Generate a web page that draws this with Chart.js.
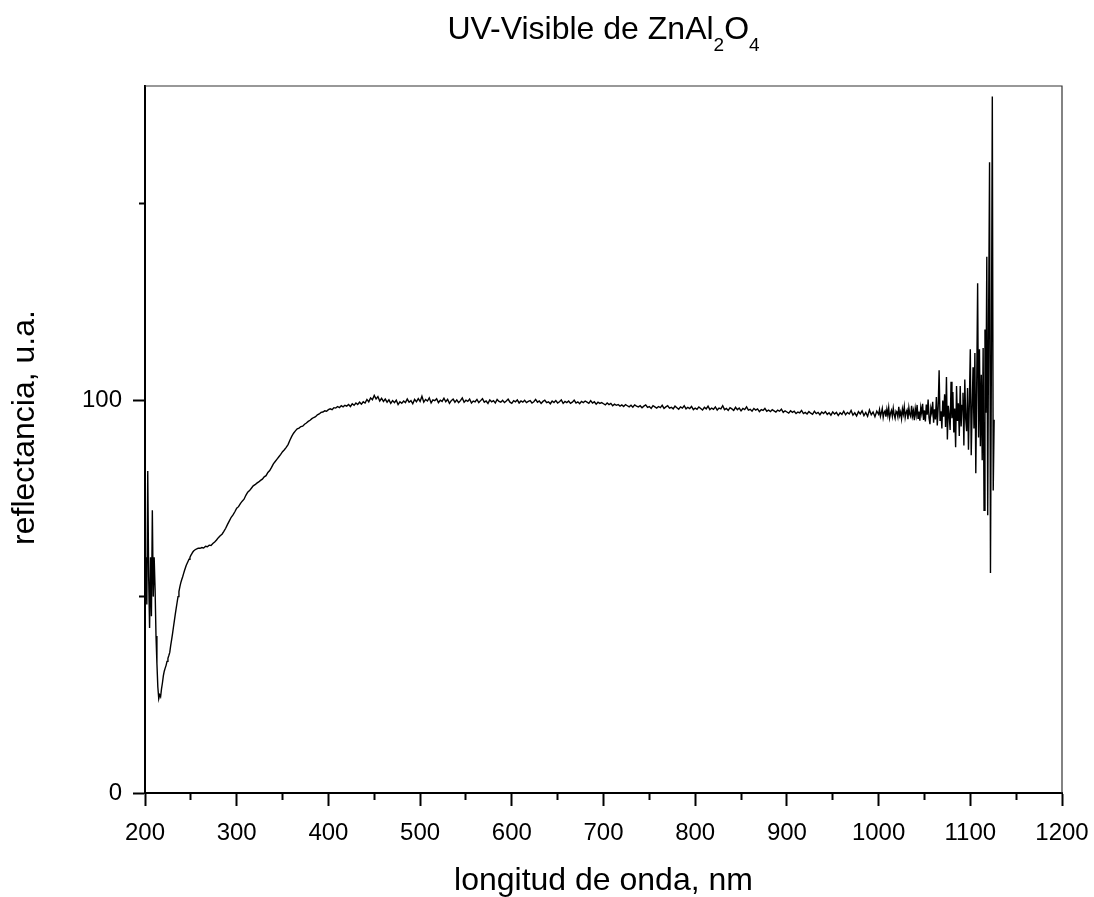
<!DOCTYPE html>
<html>
<head>
<meta charset="utf-8">
<title>UV-Visible de ZnAl2O4</title>
<script src="https://cdn.jsdelivr.net/npm/chart.js@4"></script>
<style>
  html, body { margin: 0; padding: 0; background: #fff; }
</style>
</head>
<body>
<canvas id="chart-uv" width="1094" height="897"></canvas>
<script>
// espectro medido: tres tramos con distinto paso (nm)
const wlEdgeStart = 200, wlEdgeStep = 1;
const reflEdge = [
  52, 60, 48, 82, 55, 42, 60, 45, 72, 50,
  60, 52, 40, 33, 27, 24, 25, 24.5, 26.5, 28,
  29.8, 31, 31.8, 32.5, 33.5, 34.3, 35, 35.8, 37.5, 39,
  40.5, 42.2, 43.8, 45.5, 47, 48.5, 50, 51.3, 52.5, 53.5,
  54.3, 55, 55.8, 56.6, 57.3, 58, 58.5, 59, 59.5, 60,
  60.5, 60.9, 61.3, 61.6, 61.8, 62, 62.1, 62.2, 62.3, 62.3
];

const wlMidStart = 260, wlMidStep = 2;
const reflMid = [
  62.3, 62.5, 62.4, 62.8, 62.7, 63.1, 63.0, 63.5, 63.9, 64.4,
  65.0, 65.5, 65.9, 66.6, 67.4, 68.4, 69.3, 70.2, 70.8, 71.6,
  72.5, 72.9, 73.7, 74.3, 74.8, 75.8, 76.6, 77.0, 77.6, 78.2,
  78.5, 78.9, 79.2, 79.6, 79.9, 80.5, 80.8, 81.6, 82.1, 82.9,
  83.8, 84.4, 85.0, 85.6, 86.2, 86.9, 87.4, 88.0, 88.7, 89.8,
  90.8, 91.6, 92.2, 92.7, 92.9, 93.3, 93.4, 93.9, 94.2, 94.6,
  94.9, 95.3, 95.6, 95.8, 96.3, 96.5, 96.9, 97.0, 97.3, 97.2,
  97.6, 97.8, 97.6, 98.1, 98.0, 98.4, 98.1, 98.6, 98.3, 98.7,
  98.5, 98.9, 98.4, 99.1, 98.7, 99.3, 98.9, 99.5, 99.0, 99.6,
  99.3, 100.2, 99.6, 100.6, 100.1, 101.2, 100.3, 100.9, 99.8, 100.5,
  99.7, 100.3, 99.5, 100.1, 99.2, 99.9, 99.4, 100.0, 98.9, 99.6,
  99.2, 99.8, 99.4, 100.3, 99.5, 99.9, 99.1, 100.2, 99.6, 100.4,
  99.7, 101.0, 99.5, 100.2, 99.8, 100.6, 99.3, 100.1, 99.9, 100.4,
  99.4, 100.0, 99.7, 100.5, 99.6, 100.2, 99.2, 99.9, 100.3, 99.5,
  100.1, 99.4, 99.9, 100.6, 99.5, 100.0, 99.7, 100.3, 99.3, 99.8,
  99.6, 100.2, 99.4, 99.9, 100.4, 99.5, 99.8, 99.2, 100.1, 99.6,
  99.9, 99.3, 100.2, 99.7, 99.5, 100.0, 99.4, 99.8, 100.3, 99.5,
  99.2, 99.9, 99.6, 100.1, 99.3, 99.8, 99.5, 100.0, 99.4, 99.7,
  99.9, 99.3, 99.6, 100.2, 99.5, 99.8, 99.2, 99.7, 100.0, 99.4,
  99.6, 99.1, 99.8, 99.4, 99.9, 99.3, 99.6, 100.1, 99.2, 99.7,
  99.4, 99.8, 99.2, 99.5, 100.0, 99.3, 99.6, 99.1, 99.7, 99.4,
  99.8, 99.5, 99.2, 99.9, 99.3, 99.6, 99.0, 99.5, 99.2, 99.4,
  99.1, 98.8, 99.3, 98.9, 99.2, 98.6, 99.0, 98.7, 98.9, 98.5,
  98.8, 98.4, 98.9, 98.6, 98.3, 98.7, 98.2, 98.8, 98.5, 98.3,
  98.6, 98.1, 98.5, 98.8, 98.2, 98.4, 97.9, 98.6, 98.3, 98.0,
  98.4, 98.1, 98.7, 97.9, 98.3, 98.6, 98.0, 98.2, 97.8, 98.5,
  98.1, 97.7, 98.3, 98.0, 98.6, 97.8, 98.2, 97.9, 98.4, 97.6,
  98.0, 97.7, 98.3, 97.9, 97.5, 98.2, 97.8, 98.5, 97.6, 98.0,
  97.7, 98.3, 97.5, 98.0, 97.8, 98.6, 97.6, 97.9, 97.4, 98.1,
  97.8, 97.4, 98.2, 97.6, 98.0, 97.3, 97.9, 97.6, 98.3, 97.5,
  97.7, 97.2, 97.9, 97.5, 97.8, 97.1, 97.6, 97.4, 97.9, 97.2,
  97.5, 97.1, 97.6, 97.3, 97.0, 97.5, 97.2, 97.7, 96.9, 97.3,
  97.0, 96.7, 97.3, 96.9, 97.2, 96.6, 97.0, 96.8, 97.4, 96.6,
  96.9, 96.5, 97.1, 96.7, 96.4, 97.2, 96.6, 96.9, 96.3, 97.0,
  96.6, 97.1, 96.4, 96.8, 96.2, 97.0, 96.5, 96.9, 96.1, 96.8,
  96.4, 97.2, 96.3, 96.9, 96.5, 97.4, 96.2, 96.8, 96.0, 97.1,
  96.5, 97.3, 96.1, 96.9, 95.9, 97.5, 96.3, 97.0, 95.8, 97.2
];

const wlTailStart = 1000, wlTailStep = 1;
const reflTail = [
  96.4, 97.6, 95.9, 96.8, 97.9, 95.6, 96.9, 97.3, 95.8, 97.7,
  96.2, 98.1, 95.5, 96.7, 97.4, 95.9, 98.0, 96.3, 95.4, 97.2,
  96.8, 95.7, 98.3, 96.1, 97.0, 95.3, 97.8, 96.5, 98.4, 95.6,
  96.9, 97.5, 95.2, 98.1, 96.4, 95.8, 98.6, 96.0, 97.3, 94.9,
  97.9, 96.2, 98.8, 95.4, 97.1, 94.8, 98.2, 96.7, 99.1, 95.0,
  97.4, 94.6, 98.9, 96.3, 100.2, 95.5, 93.9, 98.0, 96.8, 99.6,
  94.3, 97.7, 95.1, 100.8, 93.6, 98.4, 107.6, 94.9, 97.2, 92.8,
  99.9, 95.8, 101.5, 93.2, 105.9, 90.0, 98.6, 96.1, 92.4, 104.7,
  95.4, 102.1, 91.8, 97.9, 88.0, 103.6, 94.7, 99.2, 90.9, 103.6,
  93.3, 98.7, 101.9, 88.5, 105.3, 95.2, 92.1, 103.1, 87.4, 99.8,
  113.0, 86.0, 97.6, 108.4, 92.8, 112.0, 81.4, 104.2, 129.8, 90.5,
  113.0, 88.3, 106.5, 84.7, 113.3, 72.0, 118.0, 96.8, 136.5, 70.7,
  122.0, 160.6, 56.0, 110.5, 177.3, 77.0, 95.0
];

const xTickLabels = [200, 300, 400, 500, 600, 700, 800, 900, 1000, 1100, 1200];
const yTickLabels = [0, 100];

const FONT = "'Liberation Sans', Arial, sans-serif";
Chart.defaults.font.family = FONT;
Chart.defaults.color = "#000";

// junta los tramos en puntos {x, y}
var points = [];
function addSegment(start, step, values) {
  for (let i = 0; i < values.length; i++) {
    points.push({ x: start + i * step, y: values[i] });
  }
}
addSegment(wlEdgeStart, wlEdgeStep, reflEdge);
addSegment(wlMidStart, wlMidStep, reflMid);
addSegment(wlTailStart, wlTailStep, reflTail);

// titulo con subindices (ZnAl2O4) y titulo del eje y
const titlePlugin = {
  id: "titleSub",
  afterDraw(chart) {
    const ctx = chart.ctx;
    const area = chart.chartArea;
    const parts = [
      { t: "UV-Visible de ZnAl", size: 32, dy: 0 },
      { t: "2", size: 19, dy: 12 },
      { t: "O", size: 32, dy: 0 },
      { t: "4", size: 19, dy: 12 },
    ];
    ctx.save();
    ctx.fillStyle = "#000";
    ctx.textBaseline = "alphabetic";
    let total = 0;
    parts.forEach(function (p) {
      ctx.font = p.size + "px " + FONT;
      p.w = ctx.measureText(p.t).width;
      total += p.w;
    });
    let x = (area.left + area.right) / 2 - total / 2;
    const base = area.top - 47;
    parts.forEach(function (p) {
      ctx.font = p.size + "px " + FONT;
      ctx.fillText(p.t, x, base + p.dy);
      x += p.w;
    });

    // reflectancia, u.a. (girado)
    ctx.font = "32px " + FONT;
    ctx.textAlign = "center";
    ctx.translate(34, (area.top + area.bottom) / 2 - 12);
    ctx.rotate(-Math.PI / 2);
    ctx.fillText("reflectancia, u.a.", 0, 0);
    ctx.restore();
  },
};

// marco superior y derecho
const framePlugin = {
  id: "frame",
  afterDraw(chart) {
    const ctx = chart.ctx;
    const a = chart.chartArea;
    ctx.save();
    ctx.strokeStyle = "#333";
    ctx.lineWidth = 1.2;
    ctx.beginPath();
    ctx.moveTo(a.left, a.top);
    ctx.lineTo(a.right, a.top);
    ctx.lineTo(a.right, a.bottom);
    ctx.stroke();
    ctx.restore();
  },
};

var ctx = document.getElementById("chart-uv").getContext("2d");
new Chart(ctx, {
  type: "line",
  data: {
    datasets: [
      {
        label: "ZnAl2O4",
        data: points,
        borderColor: "#000",
        borderWidth: 1.4,
        pointRadius: 0,
        tension: 0,
        fill: false,
      },
    ],
  },
  options: {
    responsive: false,
    animation: false,
    devicePixelRatio: 1,
    layout: {
      padding: { top: 86, right: 32, left: 0, bottom: 0 },
    },
    plugins: {
      legend: { display: false },
      tooltip: { enabled: false },
      title: { display: false },
    },
    scales: {
      x: {
        type: "linear",
        min: 200,
        max: 1200,
        afterFit: function (scale) {
          scale.height = 104;
          scale.paddingLeft = 0;
          scale.paddingRight = 0;
        },
        border: { display: true, color: "#000", width: 2 },
        grid: {
          drawOnChartArea: false,
          drawTicks: true,
          tickLength: 13,
          tickWidth: 2,
          tickColor: "#000",
          tickBorderDash: function (c) {
            return xTickLabels.includes(c.tick.value) ? [] : [6, 50];
          },
        },
        ticks: {
          stepSize: 50,
          autoSkip: false,
          maxRotation: 0,
          padding: 13,
          font: { size: 24 },
          callback: function (v) {
            return xTickLabels.includes(v) ? String(v) : "";
          },
        },
        title: {
          display: true,
          text: "longitud de onda, nm",
          font: { size: 32, lineHeight: 1 },
          padding: { top: 0, bottom: 0 },
        },
      },
      y: {
        min: 0,
        max: 180,
        afterFit: function (scale) {
          scale.width = 145;
        },
        border: { display: true, color: "#000", width: 2 },
        grid: {
          drawOnChartArea: false,
          drawTicks: true,
          tickLength: 12,
          tickWidth: 2,
          tickColor: "#000",
          tickBorderDash: function (c) {
            return yTickLabels.includes(c.tick.value) ? [] : [0, 6, 6, 50];
          },
        },
        ticks: {
          stepSize: 50,
          includeBounds: false,
          autoSkip: false,
          padding: 11,
          font: { size: 24 },
          callback: function (v) {
            return yTickLabels.includes(v) ? String(v) : "";
          },
        },
        title: { display: false },
      },
    },
  },
  plugins: [titlePlugin, framePlugin],
});
</script>
</body>
</html>
